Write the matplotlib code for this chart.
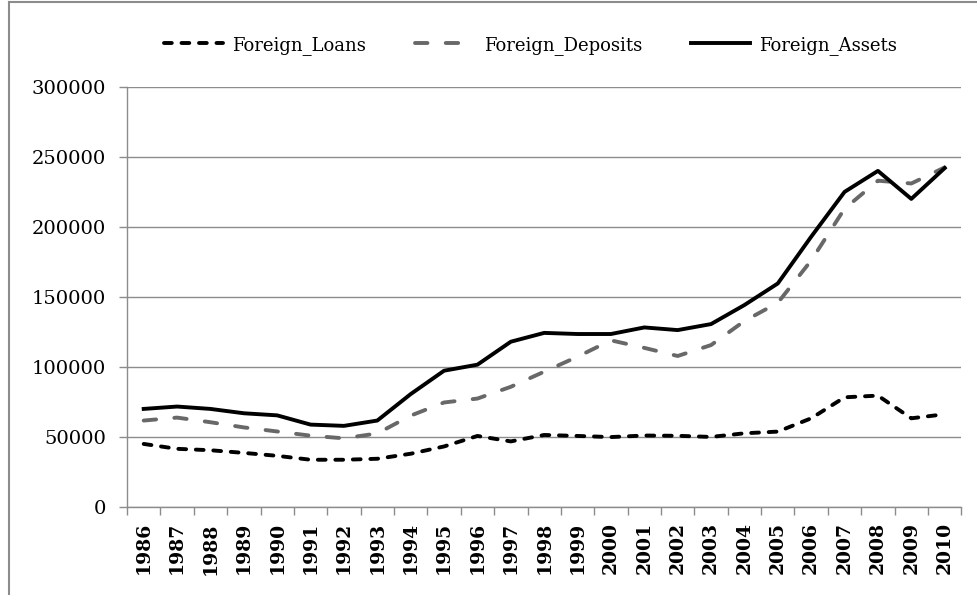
import numpy as np
import matplotlib
matplotlib.use("Agg")
import matplotlib.pyplot as plt
from matplotlib.lines import Line2D

years = list(range(1986, 2011))
foreign_loans = [45000, 41500, 40500, 38600, 36500, 33700, 33700, 34400, 38000, 43200,
                 50700, 46800, 51400, 50700, 49900, 51000, 50800, 50000, 52600, 53800,
                 63300, 78300, 79500, 63300, 66200]
foreign_deposits = [61700, 63800, 60500, 56800, 53900, 50900, 49000, 52500, 65200, 74600,
                    77400, 85800, 96600, 107300, 119000, 113600, 107800, 115600, 132800, 145800,
                    176000, 213000, 233000, 231000, 242500]
foreign_assets = [70000, 71700, 70000, 66900, 65400, 58800, 57900, 61700, 80600, 97300,
                  101600, 118000, 124300, 123500, 123500, 128200, 126300, 130600, 144200, 159600,
                  193000, 225000, 240000, 220000, 242000]

plt.rcParams['font.family'] = ['DejaVu Serif']

fig = plt.figure(figsize=(9.77, 5.95), dpi=100)
ax = fig.add_axes([0.130, 0.148, 0.854, 0.706])

x = np.arange(len(years))
lw = 2.8
ax.plot(x, foreign_loans, color='black', linewidth=lw, linestyle=(0, (2.0, 2.5)),
        dash_capstyle='round', label='Foreign_Loans')
ax.plot(x, foreign_deposits, color='#686868', linewidth=lw, linestyle=(0, (3.2, 4.7)),
        dash_capstyle='round', label='Foreign_Deposits')
ax.plot(x, foreign_assets, color='black', linewidth=lw, label='Foreign_Assets')

ax.set_xlim(-0.5, len(years) - 0.5)
ax.set_ylim(0, 300000)
ax.set_yticks(range(0, 300001, 50000))
ax.set_yticklabels([str(v) for v in range(0, 300001, 50000)], fontsize=14)
ax.yaxis.grid(True, color='#8c8c8c', linewidth=1.0)
ax.set_axisbelow(True)

ax.set_xticks(x)
ax.set_xticklabels([str(y) for y in years], rotation=90, fontsize=13.5, fontweight='bold')
ax.set_xticks(np.arange(-0.5, len(years)), minor=True)
ax.tick_params(axis='x', which='major', length=0, pad=11)
ax.tick_params(axis='x', which='minor', length=6, color='#8c8c8c', width=1)
ax.tick_params(axis='y', length=6, color='#8c8c8c', width=1, pad=9)

for side in ['top', 'right']:
    ax.spines[side].set_visible(False)
for side in ['left', 'bottom']:
    ax.spines[side].set_color('#8c8c8c')
    ax.spines[side].set_linewidth(1.0)

leg = fig.legend(loc='center', bbox_to_anchor=(0.543, 0.924), ncol=3, frameon=False,
                 handlelength=3.3, handletextpad=0.5, columnspacing=2.7,
                 prop={'family': 'DejaVu Serif', 'size': 13})

# outer chart border (left and top visible)
fig.add_artist(Line2D([0.009, 0.009], [0, 0.997], transform=fig.transFigure,
                      color='#8c8c8c', linewidth=1.5))
fig.add_artist(Line2D([0.009, 1.0], [0.997, 0.997], transform=fig.transFigure,
                      color='#8c8c8c', linewidth=1.5))

fig.savefig('out.png', dpi=100)
